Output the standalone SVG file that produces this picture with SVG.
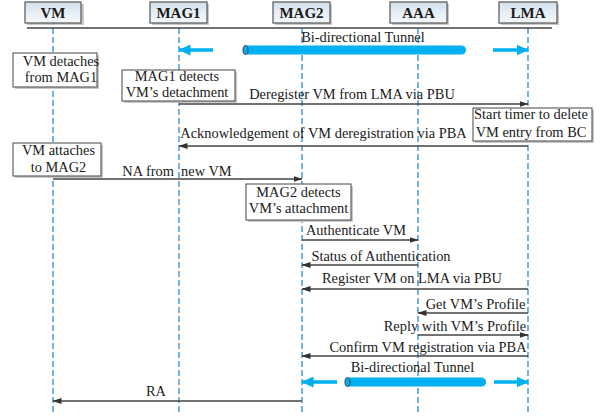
<svg xmlns="http://www.w3.org/2000/svg" width="603" height="417" viewBox="0 0 603 417">
<defs>
<linearGradient id="hg" x1="0" y1="0" x2="0" y2="1">
<stop offset="0" stop-color="#d4e0ea"/>
<stop offset="0.5" stop-color="#e6eef5"/>
<stop offset="1" stop-color="#f4f8fb"/>
</linearGradient>
<marker id="ah" markerWidth="9" markerHeight="6" refX="8.5" refY="3" orient="auto" markerUnits="userSpaceOnUse">
<path d="M0,0 L9,3 L0,6 Z" fill="#333"/>
</marker>
<marker id="bh" markerWidth="12" markerHeight="11" refX="11.5" refY="5.5" orient="auto" markerUnits="userSpaceOnUse">
<path d="M0,0 L12,5.5 L0,11 Z" fill="#00b0f0"/>
</marker>
</defs>
<style>
text{font-family:"Liberation Serif","Times New Roman",serif;font-size:14.4px;fill:#1a1a1a}
.hd{font-weight:bold;font-size:15px;text-anchor:middle}
.hbox{fill:url(#hg);stroke:#555;stroke-width:1.2}
.shadow{fill:#c8c8c8}
.box{fill:#fff;stroke:#555;stroke-width:1.1}
.c{text-anchor:middle}
.life{stroke:#2a8ad6;stroke-width:1.3;stroke-dasharray:6 3;fill:none}
.msg{stroke:#444;stroke-width:1.3;fill:none;marker-end:url(#ah)}
.bt{stroke:#00b0f0;stroke-width:3.5;fill:none;marker-end:url(#bh)}
.tube{fill:#00b0f0}
.cap{fill:#00b0f0;stroke:#444;stroke-width:1}
</style>

<g id="lifelines">
<line class="life" x1="53" y1="28" x2="53" y2="415"/>
<line class="life" x1="179" y1="28" x2="179" y2="415"/>
<line class="life" x1="302" y1="28" x2="302" y2="415"/>
<line class="life" x1="418" y1="28" x2="418" y2="415"/>
<line class="life" x1="528" y1="28" x2="528" y2="415"/>
</g>
<line x1="27" y1="28" x2="552" y2="28" stroke="#444" stroke-width="1.5"/>

<g id="node-VM"><rect class="shadow" x="27" y="4" width="57" height="21"/><rect class="hbox" x="25" y="2" width="56" height="21"/><text class="hd" x="53" y="18">VM</text></g>
<g id="node-MAG1"><rect class="shadow" x="152" y="4" width="57" height="21"/><rect class="hbox" x="150" y="2" width="57" height="21"/><text class="hd" x="178.5" y="18">MAG1</text></g>
<g id="node-MAG2"><rect class="shadow" x="275" y="4" width="57" height="21"/><rect class="hbox" x="273" y="2" width="57" height="21"/><text class="hd" x="301.5" y="18">MAG2</text></g>
<g id="node-AAA"><rect class="shadow" x="392" y="4" width="57" height="21"/><rect class="hbox" x="390" y="2" width="57" height="21"/><text class="hd" x="418.5" y="18">AAA</text></g>
<g id="node-LMA"><rect class="shadow" x="501" y="4" width="58" height="21"/><rect class="hbox" x="499" y="2" width="58" height="21"/><text class="hd" x="528" y="18">LMA</text></g>

<g id="note-vm-detaches"><rect class="shadow" x="15" y="55" width="84" height="34"/><rect class="box" x="13" y="53" width="84" height="34"/><text class="c" x="61" y="66">VM detaches</text><text class="c" x="61" y="82">from MAG1</text></g>
<g id="note-mag1-detects"><rect class="shadow" x="124" y="72" width="113" height="31"/><rect class="box" x="122" y="70" width="113" height="31"/><text class="c" x="177" y="81">MAG1 detects</text><text class="c" x="177" y="97">VM’s detachment</text></g>
<g id="note-start-timer"><rect class="shadow" x="475" y="110" width="119" height="33"/><rect class="box" x="473" y="108" width="119" height="33"/><text class="c" x="531" y="119">Start timer to delete</text><text class="c" x="531" y="137">VM entry from BC</text></g>
<g id="note-vm-attaches"><rect class="shadow" x="15" y="145" width="88" height="33"/><rect class="box" x="13" y="143" width="88" height="33"/><text class="c" x="58.5" y="155">VM attaches</text><text class="c" x="58.5" y="172">to MAG2</text></g>
<g id="note-mag2-detects"><rect class="shadow" x="248" y="186" width="105" height="36"/><rect class="box" x="246" y="184" width="105" height="36"/><text class="c" x="298.5" y="197">MAG2 detects</text><text class="c" x="298.5" y="213">VM’s attachment</text></g>

<g id="tunnel-1">
<line class="bt" x1="213" y1="50" x2="179" y2="50"/>
<rect class="tube" x="243" y="45.5" width="223" height="9" rx="4.5"/>
<ellipse class="cap" cx="245.5" cy="50" rx="2.5" ry="4.5"/>
<line class="bt" x1="493" y1="50" x2="528" y2="50"/>
<text class="c" x="363" y="42">Bi-directional Tunnel</text>
</g>

<g id="connectors">
<line class="msg" x1="179" y1="104" x2="528" y2="104"/>
<line class="msg" x1="528" y1="146" x2="179" y2="146"/>
<line class="msg" x1="53" y1="179" x2="302" y2="179"/>
<line class="msg" x1="302" y1="240" x2="418" y2="240"/>
<line class="msg" x1="418" y1="265" x2="302" y2="265"/>
<line class="msg" x1="528" y1="289" x2="302" y2="289"/>
<line class="msg" x1="528" y1="313" x2="418" y2="313"/>
<line class="msg" x1="418" y1="335" x2="528" y2="335"/>
<line class="msg" x1="528" y1="356" x2="302" y2="356"/>
<line class="msg" x1="302" y1="401" x2="53" y2="401"/>
</g>
<g id="labels">
<text class="c" x="352" y="99">Deregister VM from LMA via PBU</text>
<text class="c" x="323.5" y="138">Acknowledgement of VM deregistration via PBA</text>
<text class="c" x="177" y="176" xml:space="preserve">NA from  new VM</text>
<text class="c" x="356" y="235">Authenticate VM</text>
<text class="c" x="381" y="261">Status of Authentication</text>
<text class="c" x="412" y="283">Register VM on LMA via PBU</text>
<text class="c" x="475.5" y="309">Get VM’s Profile</text>
<text class="c" x="455" y="331">Reply with VM’s Profile</text>
<text class="c" x="428" y="352">Confirm VM registration via PBA</text>
<text class="c" x="156" y="396">RA</text>
</g>

<g id="tunnel-2">
<line class="bt" x1="337" y1="382" x2="302" y2="382"/>
<rect class="tube" x="345" y="377.5" width="141" height="9" rx="4.5"/>
<ellipse class="cap" cx="347.5" cy="382" rx="2.5" ry="4.5"/>
<line class="bt" x1="494" y1="382" x2="528" y2="382"/>
<text class="c" x="412.5" y="372">Bi-directional Tunnel</text>
</g>
</svg>
